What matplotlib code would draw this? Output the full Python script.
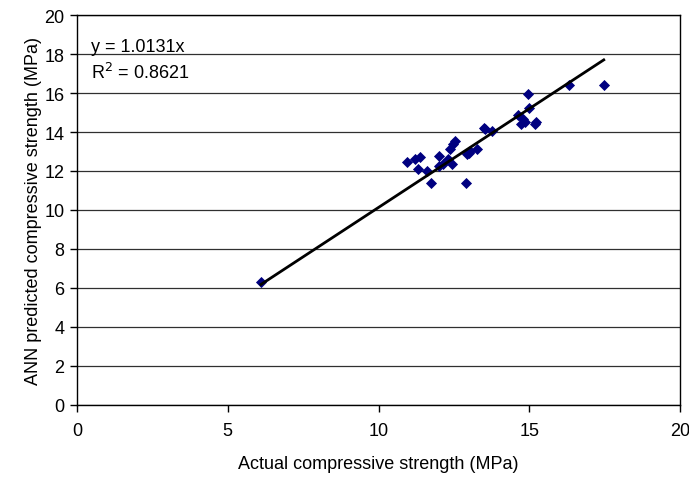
import matplotlib
matplotlib.use("Agg")
import matplotlib.pyplot as plt
import numpy as np

plt.rcParams['font.family'] = ['Liberation Sans', 'DejaVu Sans']

actual = [6.1, 17.47, 16.32, 14.95, 14.99, 14.62, 14.78, 14.73, 14.86, 15.22, 15.19,
          13.5, 13.53, 13.75, 10.93, 11.21, 11.38, 11.3, 11.6, 11.74, 12.02, 11.99,
          12.15, 12.32, 12.43, 12.37, 12.48, 12.54, 12.92, 13.03, 13.26, 13.0, 12.89]
predicted = [6.3, 16.43, 16.43, 15.95, 15.21, 14.87, 14.67, 14.41, 14.5, 14.5, 14.4,
             14.2, 14.15, 14.03, 12.44, 12.6, 12.7, 12.1, 11.98, 11.38, 12.78, 12.27,
             12.36, 12.62, 12.36, 13.13, 13.38, 13.55, 12.87, 13.04, 13.13, 12.9, 11.38]

slope = 1.0131
r2 = 0.8621
x_ticks = [0, 5, 10, 15, 20]
y_ticks = list(range(0, 21, 2))

fs = 13
fig = plt.figure(figsize=(6.89, 4.81), dpi=100)
ax = fig.add_axes([0.1118, 0.156, 0.8752, 0.8107])

ax.scatter(actual, predicted, marker='D', s=32, color='#000080', zorder=3, linewidths=0)
xs = np.array([min(actual), max(actual)])
ax.plot(xs, slope * xs, color='black', lw=2, zorder=4)

ax.set_xlim(0, 20)
ax.set_ylim(0, 20)
ax.set_xticks(x_ticks)
ax.set_yticks(y_ticks)
ax.yaxis.grid(True, color='#303030', lw=0.9)
ax.set_axisbelow(True)
for s in ax.spines.values():
    s.set_color('black')
    s.set_linewidth(1)
ax.tick_params(direction='out', length=5, width=1, labelsize=fs, colors='black', pad=4)
ax.tick_params(axis='x', pad=7)

ax.set_xlabel('Actual compressive strength (MPa)', fontsize=fs, labelpad=12)
ax.set_ylabel('ANN predicted compressive strength (MPa)', fontsize=fs, labelpad=2)

ax.text(0.023, 0.92, 'y = 1.0131x', transform=ax.transAxes, fontsize=fs, va='center')
ax.text(0.023, 0.855, r'R$^2$ = 0.8621', transform=ax.transAxes, fontsize=fs, va='center')

fig.savefig('out.png', dpi=100)
